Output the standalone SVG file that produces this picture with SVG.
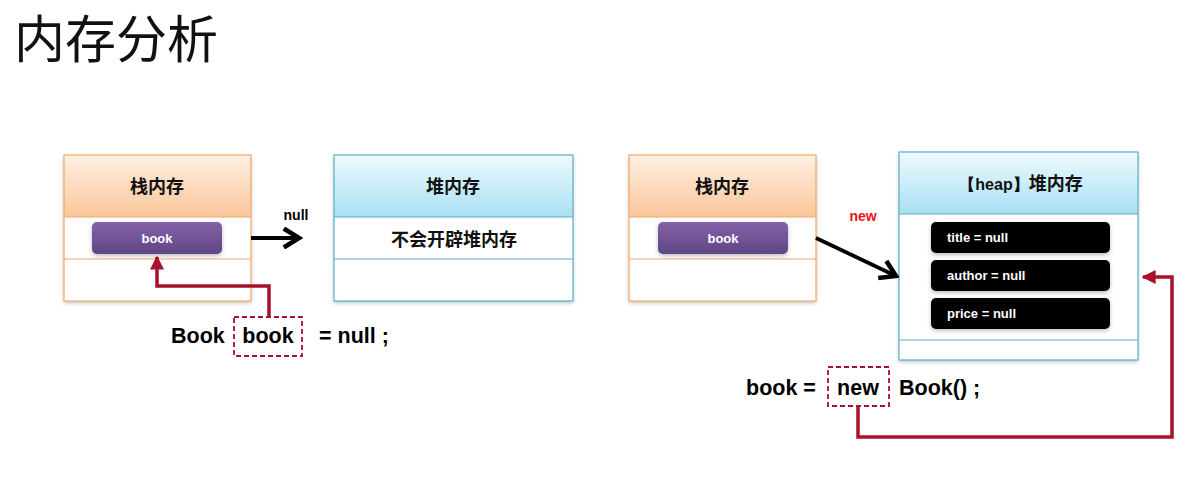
<svg xmlns="http://www.w3.org/2000/svg" width="1198" height="488" viewBox="0 0 1198 488">
<defs>
<linearGradient id="gOrange" x1="0" y1="0" x2="0" y2="1"><stop offset="0" stop-color="#FEF0E4"/><stop offset="1" stop-color="#FBC69A"/></linearGradient>
<linearGradient id="gBlue" x1="0" y1="0" x2="0" y2="1"><stop offset="0" stop-color="#EEFAFE"/><stop offset="1" stop-color="#A8E0F4"/></linearGradient>
<linearGradient id="gPurple" x1="0" y1="0" x2="0" y2="1"><stop offset="0" stop-color="#8462A8"/><stop offset="1" stop-color="#5F4685"/></linearGradient>
<filter id="sh" x="-10%" y="-10%" width="120%" height="130%"><feDropShadow dx="0" dy="2" stdDeviation="2" flood-color="#000" flood-opacity="0.25"/></filter>
<marker id="mBlack" viewBox="0 0 12 12" refX="10" refY="6" markerWidth="6" markerHeight="6" orient="auto" markerUnits="strokeWidth"><path d="M2,1 L10,6 L2,11" fill="none" stroke="#000" stroke-width="2.4"/></marker>
<marker id="mRed" viewBox="0 0 10 10" refX="9" refY="5" markerWidth="4" markerHeight="4" orient="auto" markerUnits="strokeWidth"><path d="M0,0 L10,5 L0,10 z" fill="#A8122A"/></marker>
</defs>
<style>
.stackBorder{fill:none;stroke:#F0A868;stroke-width:1.2}
.heapBorder{fill:none;stroke:#5AAFC8;stroke-width:1.2}
.hdr{font-family:"Noto Sans CJK SC",sans-serif;font-weight:bold;font-size:18px;fill:#111;text-anchor:middle}
.btn{font-family:"Liberation Sans",Arial,sans-serif;font-weight:bold;font-size:13px;fill:#fff;text-anchor:middle}
.fld{font-family:"Liberation Sans",Arial,sans-serif;font-weight:bold;font-size:13px;fill:#fff}
.code{font-family:"Liberation Sans",Arial,sans-serif;font-weight:bold;font-size:21.5px;fill:#000}
.lbl{font-family:"Liberation Sans",Arial,sans-serif;font-weight:bold;font-size:14px}
.dash{fill:none;stroke:#A8122A;stroke-width:1.8;stroke-dasharray:5,3}
.red{fill:none;stroke:#A8122A;stroke-width:3.5}
.blk{fill:none;stroke:#000;stroke-width:3.8}
</style>
<rect width="1198" height="488" fill="#fff"/>
<text x="14" y="58" font-family="Noto Sans CJK SC,sans-serif" font-size="51" fill="#111">内存分析</text>

<g id="stack1">
<rect x="64" y="155" width="187" height="146" fill="#fff" filter="url(#sh)"/>
<rect x="64" y="155" width="187" height="62" fill="url(#gOrange)"/>
<line x1="64" y1="217" x2="251" y2="217" stroke="#F0A868" stroke-width="1.2"/>
<line x1="64" y1="259" x2="251" y2="259" stroke="#F0A868" stroke-width="1.2"/>
<rect x="64" y="155" width="187" height="146" class="stackBorder"/>
<text x="157" y="193" class="hdr">栈内存</text>
<rect x="92" y="222" width="130" height="32" rx="5" fill="url(#gPurple)" filter="url(#sh)"/>
<text x="157" y="243" class="btn">book</text>
</g>

<g id="heap1">
<rect x="334" y="155" width="239" height="146" fill="#fff" filter="url(#sh)"/>
<rect x="334" y="155" width="239" height="62" fill="url(#gBlue)"/>
<line x1="334" y1="217" x2="573" y2="217" stroke="#5AAFC8" stroke-width="1.2"/>
<line x1="334" y1="259" x2="573" y2="259" stroke="#5AAFC8" stroke-width="1.2"/>
<rect x="334" y="155" width="239" height="146" class="heapBorder"/>
<text x="453" y="193" class="hdr">堆内存</text>
<text x="454" y="246" class="hdr" font-weight="normal">不会开辟堆内存</text>
</g>

<g id="stack2">
<rect x="629" y="155" width="187" height="146" fill="#fff" filter="url(#sh)"/>
<rect x="629" y="155" width="187" height="62" fill="url(#gOrange)"/>
<line x1="629" y1="217" x2="816" y2="217" stroke="#F0A868" stroke-width="1.2"/>
<line x1="629" y1="259" x2="816" y2="259" stroke="#F0A868" stroke-width="1.2"/>
<rect x="629" y="155" width="187" height="146" class="stackBorder"/>
<text x="722" y="193" class="hdr">栈内存</text>
<rect x="658" y="222" width="130" height="32" rx="5" fill="url(#gPurple)" filter="url(#sh)"/>
<text x="723" y="243" class="btn">book</text>
</g>

<g id="heap2">
<rect x="899" y="152" width="239" height="208" fill="#fff" filter="url(#sh)"/>
<rect x="899" y="152" width="239" height="62" fill="url(#gBlue)"/>
<line x1="899" y1="214" x2="1138" y2="214" stroke="#5AAFC8" stroke-width="1.2"/>
<line x1="899" y1="340" x2="1138" y2="340" stroke="#5AAFC8" stroke-width="1.2"/>
<rect x="899" y="152" width="239" height="208" class="heapBorder"/>
<text x="1021" y="190" class="hdr"><tspan font-family="Liberation Sans,Arial,sans-serif" font-size="16">【heap】</tspan>堆内存</text>
<rect x="931" y="222" width="179" height="31" rx="5" fill="#000" filter="url(#sh)"/>
<text x="947" y="242" class="fld">title = null</text>
<rect x="931" y="260" width="179" height="31" rx="5" fill="#000" filter="url(#sh)"/>
<text x="947" y="280" class="fld">author = null</text>
<rect x="931" y="298" width="179" height="31" rx="5" fill="#000" filter="url(#sh)"/>
<text x="947" y="318" class="fld">price = null</text>
</g>

<g id="code1">
<text x="171" y="343" class="code">Book</text>
<rect x="234" y="317" width="68" height="39" class="dash"/>
<text x="268" y="343" class="code" text-anchor="middle">book</text>
<text x="319" y="343" class="code">= null ;</text>
</g>

<g id="code2">
<text x="746" y="395" class="code">book =</text>
<rect x="828" y="367" width="61" height="39" class="dash"/>
<text x="858" y="395" class="code" text-anchor="middle">new</text>
<text x="899" y="395" class="code">Book() ;</text>
</g>

<g id="connectors">
<line x1="251" y1="238" x2="299" y2="238" class="blk" marker-end="url(#mBlack)"/>
<text x="296" y="220" class="lbl" text-anchor="middle" fill="#000">null</text>
<polyline points="269,317 269,286 157,286 157,257" class="red" marker-end="url(#mRed)"/>
<line x1="816" y1="238" x2="896" y2="276" class="blk" marker-end="url(#mBlack)"/>
<text x="863" y="221" class="lbl" text-anchor="middle" fill="#E8131A">new</text>
<polyline points="858,406 858,437 1172,437 1172,277 1143,277" class="red" marker-end="url(#mRed)"/>
</g>
</svg>
